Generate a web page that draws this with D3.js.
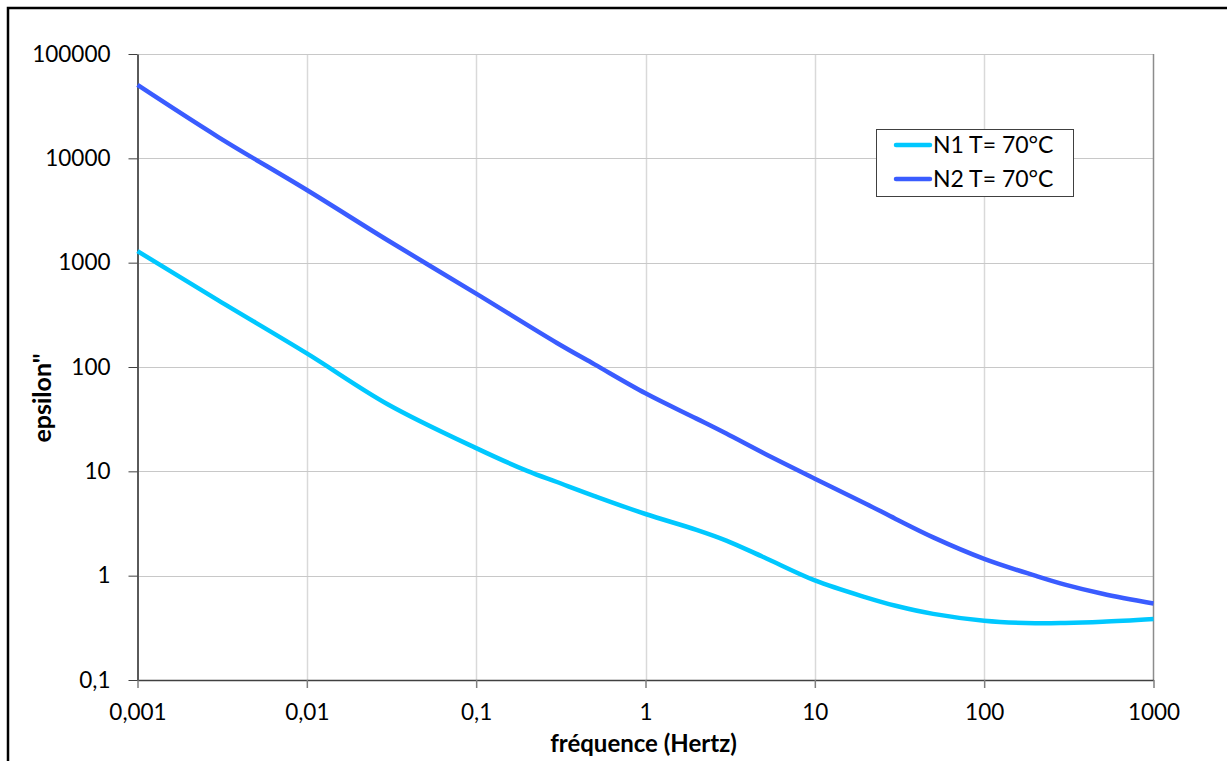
<!DOCTYPE html>
<html>
<head>
<meta charset="utf-8">
<script src="https://cdn.jsdelivr.net/npm/d3@7"></script>
<style>
  html, body { margin: 0; padding: 0; background: #fff; }
  svg { display: block; }
  text { font-family: Lato, "Open Sans", sans-serif; fill: #000; }
</style>
</head>
<body>
<svg id="chart" width="1227" height="761"></svg>
<script>
// ---- data ----
const freqN1 = [0.001, 0.003, 0.01, 0.03, 0.1, 0.2, 0.3, 0.5, 1, 2, 3, 5, 10, 20, 30, 50, 100, 200, 300, 500, 1000];
const epsN1  = [1290, 435, 135, 44, 16.7, 10.1, 7.9, 5.8, 3.9, 2.75, 2.17, 1.5, 0.9, 0.62, 0.515, 0.43, 0.37, 0.35, 0.352, 0.362, 0.385];
const freqN2 = [0.001, 0.003, 0.01, 0.03, 0.1, 0.3, 0.5, 1, 2, 3, 5, 10, 20, 30, 50, 100, 200, 300, 500, 1000];
const epsN2  = [50500, 16000, 4970, 1640, 505, 170, 106, 56, 32, 23, 14.9, 8.5, 4.9, 3.5, 2.33, 1.45, 1.0, 0.82, 0.67, 0.54];
const seriesNames = ["N1 T= 70°C", "N2 T= 70°C"];
const seriesColors = ["#00c8ff", "#3a5cff"];
const xTicks = [0.001, 0.01, 0.1, 1, 10, 100, 1000];
const xTickLabels = ["0,001", "0,01", "0,1", "1", "10", "100", "1000"];
const yTicks = [0.1, 1, 10, 100, 1000, 10000, 100000];
const yTickLabels = ["0,1", "1", "10", "100", "1000", "10000", "100000"];
const xTitle = "fréquence (Hertz)";
const yTitle = "epsilon\"";

// ---- layout ----
const svg = d3.select("#chart");
const plot = { left: 137.5, right: 1153.5, top: 54, bottom: 680 };

// outer chart border
svg.append("rect")
  .attr("x", 8).attr("y", 8)
  .attr("width", 1240).attr("height", 800)
  .attr("fill", "#fff").attr("stroke", "#000").attr("stroke-width", 2.5);

const x = d3.scaleLog().domain([0.001, 1000]).range([plot.left, plot.right]);
const y = d3.scaleLog().domain([0.1, 100000]).range([plot.bottom, plot.top]);

// gridlines
const g = svg.append("g");
g.selectAll("line.vgrid").data(xTicks.slice(1, -1)).enter().append("line")
  .attr("x1", d => Math.round(x(d)) + 0.5).attr("x2", d => Math.round(x(d)) + 0.5)
  .attr("y1", plot.top).attr("y2", plot.bottom)
  .attr("stroke", "#d9d9d9").attr("stroke-width", 1.5);
g.selectAll("line.hgrid").data(yTicks.slice(1)).enter().append("line")
  .attr("x1", plot.left).attr("x2", plot.right)
  .attr("y1", d => Math.round(y(d)) + 0.5).attr("y2", d => Math.round(y(d)) + 0.5)
  .attr("stroke", "#c8c8c8").attr("stroke-width", 1);

// right plot border
g.append("line")
  .attr("x1", plot.right).attr("x2", plot.right)
  .attr("y1", plot.top).attr("y2", plot.bottom)
  .attr("stroke", "#8c8c8c").attr("stroke-width", 1.5);

// axes
const xAxis = d3.axisBottom(x).tickValues(xTicks)
  .tickFormat((d, i) => xTickLabels[i]).tickSize(8).tickSizeOuter(0).tickPadding(16);
const yAxis = d3.axisLeft(y).tickValues(yTicks)
  .tickFormat((d, i) => yTickLabels[i]).tickSize(9).tickSizeOuter(0).tickPadding(18);

const gx = svg.append("g").attr("transform", `translate(0,${plot.bottom})`).call(xAxis);
const gy = svg.append("g").attr("transform", `translate(${plot.left},0)`).call(yAxis);
gx.select(".domain").attr("stroke", "#404040").attr("stroke-width", 1.5);
gy.select(".domain").attr("stroke", "#5a5a5a").attr("stroke-width", 2);
gx.selectAll(".tick line").attr("stroke", "#7f7f7f").attr("stroke-width", 1.5);
gy.selectAll(".tick line").attr("stroke", "#404040").attr("stroke-width", 1);
gx.selectAll(".tick text").style("font-size", "22.5px").style("font-family", "Lato, sans-serif").attr("fill", "#000");
gy.selectAll(".tick text").style("font-size", "22.5px").style("font-family", "Lato, sans-serif").attr("fill", "#000");

// axis titles
svg.append("text")
  .attr("x", (plot.left + plot.right) / 2 - 2).attr("y", 752)
  .attr("text-anchor", "middle")
  .style("font-size", "24px").style("font-weight", "bold")
  .text(xTitle);
svg.append("text")
  .attr("transform", `translate(51,${(plot.top + plot.bottom) / 2 + 31}) rotate(-90)`)
  .attr("text-anchor", "middle")
  .style("font-size", "25px").style("font-weight", "bold")
  .text(yTitle);

// lines
const line = d3.line()
  .x(d => x(d[0])).y(d => y(d[1]))
  .curve(d3.curveCatmullRom.alpha(0.5));
const series = [
  d3.zip(freqN1, epsN1),
  d3.zip(freqN2, epsN2)
];
svg.append("g").selectAll("path").data(series).enter().append("path")
  .attr("d", line)
  .attr("fill", "none")
  .attr("stroke", (d, i) => seriesColors[i])
  .attr("stroke-width", 4.5)
  .attr("stroke-linejoin", "round");

// legend
const lg = svg.append("g");
lg.append("rect")
  .attr("x", 876.5).attr("y", 129.5).attr("width", 197).attr("height", 67)
  .attr("fill", "#fff").attr("stroke", "#404040").attr("stroke-width", 1);
const items = lg.selectAll("g.item").data(seriesNames).enter().append("g")
  .attr("transform", (d, i) => `translate(0,${145 + i * 34})`);
items.append("line")
  .attr("x1", 896).attr("x2", 930).attr("y1", 0).attr("y2", 0)
  .attr("stroke", (d, i) => seriesColors[i]).attr("stroke-width", 4.5)
  .attr("stroke-linecap", "round");
items.append("text")
  .attr("x", 933).attr("y", 0).attr("dy", "0.35em")
  .style("font-size", "23px")
  .text(d => d);
</script>
</body>
</html>
